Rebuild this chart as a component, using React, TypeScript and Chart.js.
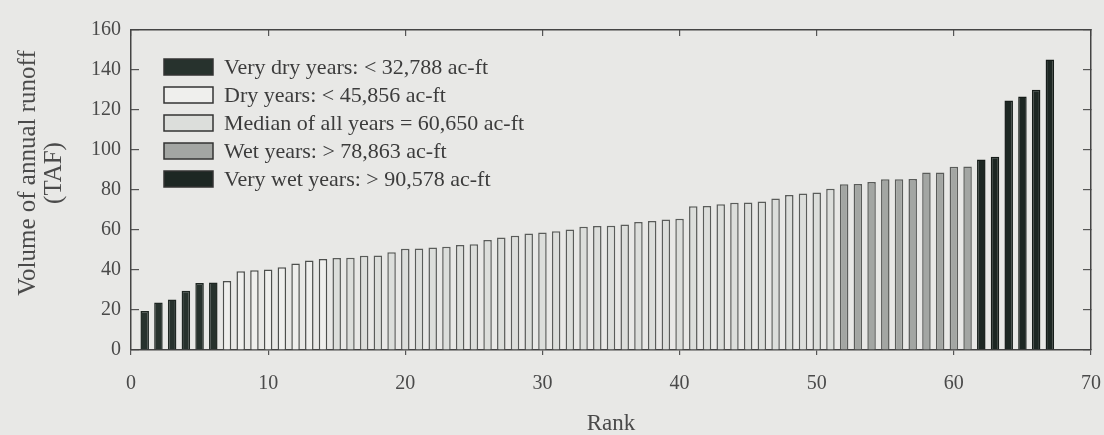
import React, { useEffect, useRef } from "react";
import { Chart, registerables } from "chart.js";

Chart.register(...registerables);

// Annual runoff (TAF), sorted by rank 1..67
const runoffTAF = [
  19.5, 23.8, 25.3, 29.6, 33.5, 33.7, 34.5, 39.4, 39.9, 40.2,
  41.4, 43.2, 44.7, 45.5, 46.0, 46.1, 47.1, 47.3, 48.9, 50.6,
  50.8, 51.2, 51.6, 52.5, 52.9, 55.0, 56.3, 57.1, 58.3, 58.8,
  59.4, 60.3, 61.6, 62.0, 62.1, 62.7, 64.0, 64.5, 65.2, 65.6,
  71.9, 72.0, 72.9, 73.6, 73.8, 74.2, 75.7, 77.5, 78.3, 78.8,
  80.6, 82.9, 83.0, 84.0, 85.4, 85.4, 85.5, 88.7, 88.8, 91.6,
  91.7, 95.2, 96.6, 124.7, 126.8, 130.1, 145.3,
];
const ranks = runoffTAF.map((_, i) => i + 1);

const classLabels = [
  "Very dry years: < 32,788 ac-ft",
  "Dry years: < 45,856 ac-ft",
  "Median of all years = 60,650 ac-ft",
  "Wet years: > 78,863 ac-ft",
  "Very wet years: > 90,578 ac-ft",
];
// last rank belonging to each class
const classLastRank = [6, 14, 51, 61, 67];

const xTicks = [0, 10, 20, 30, 40, 50, 60, 70];
const yTicks = [0, 20, 40, 60, 80, 100, 120, 140, 160];
const yTitleLines = ["Volume of annual runoff", "(TAF)"];
const xTitle = "Rank";

const classFill = ["#27322d", "#efefed", "#dcdedb", "#a3a6a3", "#1d2723"];
const classBorder = ["#1e2622", "#4d4f4d", "#5a5c5a", "#5a5c5a", "#151c19"];

const SERIF = "'Liberation Serif', 'Times New Roman', serif";
const TEXT = "#4a4a4a";

const insetLegend = {
  id: "insetLegend",
  afterDraw(chart: any) {
    const { ctx, chartArea } = chart;
    ctx.save();
    ctx.font = `22px ${SERIF}`;
    ctx.textBaseline = "middle";
    ctx.textAlign = "left";
    chart.data.datasets.forEach((ds: any, i: number) => {
      const cy = chartArea.top + 37 + i * 28;
      const bx = chartArea.left + 33;
      ctx.fillStyle = ds.backgroundColor;
      ctx.fillRect(bx, cy - 8, 49, 16);
      ctx.strokeStyle = "#333";
      ctx.lineWidth = 1.5;
      ctx.strokeRect(bx, cy - 8, 49, 16);
      ctx.fillStyle = "#3c3c3c";
      ctx.fillText(ds.label, bx + 60, cy + 1);
    });
    ctx.restore();
  },
};

const yTitlePlugin = {
  id: "yTitlePlugin",
  afterDraw(chart: any) {
    const { ctx } = chart;
    ctx.save();
    ctx.font = `25px ${SERIF}`;
    ctx.fillStyle = TEXT;
    ctx.textAlign = "center";
    ctx.textBaseline = "middle";
    yTitleLines.forEach((line, i) => {
      ctx.save();
      ctx.translate(28 + i * 26, 173);
      ctx.rotate(-Math.PI / 2);
      ctx.fillText(line, 0, 0);
      ctx.restore();
    });
    ctx.restore();
  },
};

export default function App() {
  const ref = useRef<HTMLCanvasElement | null>(null);

  useEffect(() => {
    if (!ref.current) return;
    let start = 1;
    const datasets = classLabels.map((label, c) => {
      const end = classLastRank[c];
      const pts = ranks
        .filter((r) => r >= start && r <= end)
        .map((r) => ({ x: r, y: runoffTAF[r - 1] }));
      start = end + 1;
      return {
        label,
        data: pts,
        backgroundColor: classFill[c],
        borderColor: classBorder[c],
        borderWidth: 1.5,
        borderSkipped: "bottom" as const,
        grouped: false,
        barPercentage: 0.62,
        categoryPercentage: 1,
      };
    });

    const tickFont = { family: SERIF, size: 20 };
    const noSidePad = (s: any) => {
      s.paddingLeft = 0;
      s.paddingRight = 0;
    };

    const chart = new Chart(ref.current, {
      type: "bar",
      data: { datasets },
      plugins: [insetLegend, yTitlePlugin],
      options: {
        animation: false,
        responsive: false,
        devicePixelRatio: 1,
        layout: { padding: 0 },
        plugins: { legend: { display: false }, tooltip: { enabled: false } },
        scales: {
          x: {
            type: "linear",
            position: "bottom",
            offset: false,
            min: 0,
            max: 70,
            afterBuildTicks: (s: any) => {
              s.ticks = xTicks.map((v) => ({ value: v }));
            },
            afterFit: (s: any) => {
              s.height = 85;
              noSidePad(s);
            },
            ticks: { font: tickFont, color: TEXT, padding: 17, maxRotation: 0 },
            grid: { offset: false, drawOnChartArea: false, drawTicks: true, tickLength: 5, color: "#555", lineWidth: 1.2 },
            border: { display: true, color: "#444", width: 1.5 },
            title: {
              display: true,
              text: xTitle,
              font: { family: SERIF, size: 23, lineHeight: 1.0 },
              color: TEXT,
              padding: { top: 0, bottom: 0 },
            },
          },
          x2: {
            type: "linear",
            position: "top",
            offset: false,
            min: 0,
            max: 70,
            afterBuildTicks: (s: any) => {
              s.ticks = xTicks.map((v) => ({ value: v }));
            },
            afterFit: (s: any) => {
              s.height = 24;
              noSidePad(s);
            },
            ticks: { display: false },
            grid: { offset: false, drawOnChartArea: false, drawTicks: true, tickLength: -6, color: "#555", lineWidth: 1.2 },
            border: { display: true, color: "#444", width: 1.5 },
          },
          y: {
            type: "linear",
            position: "left",
            min: 0,
            max: 160,
            afterBuildTicks: (s: any) => {
              s.ticks = yTicks.map((v) => ({ value: v }));
            },
            afterFit: (s: any) => {
              s.width = 131;
            },
            ticks: { font: tickFont, color: TEXT, padding: 18 },
            grid: { drawOnChartArea: false, drawTicks: true, tickLength: -8, color: "#555", lineWidth: 1.2 },
            border: { display: true, color: "#444", width: 1.5 },
          },
          y2: {
            type: "linear",
            position: "right",
            min: 0,
            max: 160,
            afterBuildTicks: (s: any) => {
              s.ticks = yTicks.map((v) => ({ value: v }));
            },
            afterFit: (s: any) => {
              s.width = 13;
            },
            ticks: { display: false },
            grid: { drawOnChartArea: false, drawTicks: true, tickLength: -8, color: "#555", lineWidth: 1.2 },
            border: { display: true, color: "#444", width: 1.5 },
          },
        },
      } as any,
    });
    return () => chart.destroy();
  }, []);

  return (
    <div
      style={{
        position: "fixed",
        left: 0,
        top: 0,
        width: 1104,
        height: 435,
        background: "#e8e8e6",
      }}
    >
      <canvas ref={ref} width={1104} height={435} style={{ width: 1104, height: 435, display: "block" }} />
    </div>
  );
}
